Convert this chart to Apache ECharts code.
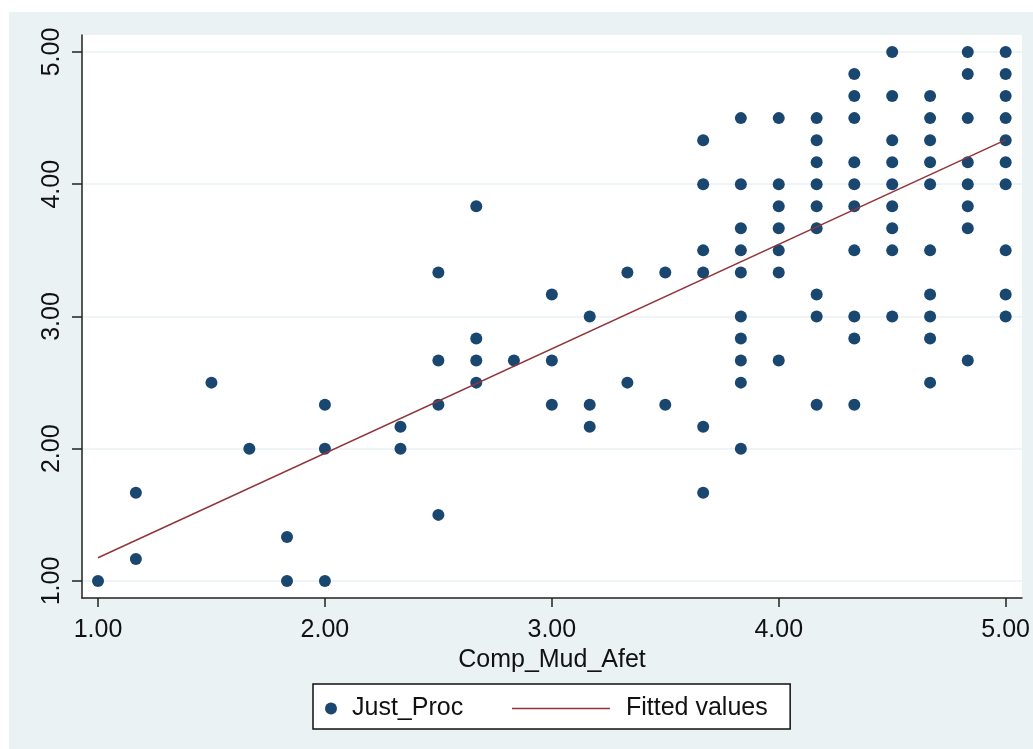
<!DOCTYPE html>
<html>
<head>
<meta charset="utf-8">
<script src="https://cdn.jsdelivr.net/npm/echarts@6/dist/echarts.min.js"></script>
<style>
  html, body { margin: 0; padding: 0; background: #ffffff; }
  #viz { position: absolute; left: 9px; top: 12px; width: 1024px; height: 737px; background: #eaf2f3; }
</style>
</head>
<body>
<div id="viz"></div>
<script>
// Comp_Mud_Afet values (x) and the Just_Proc values seen in each column
var colX = [1, 1.167, 1.5, 1.667, 1.833, 2, 2.333, 2.5, 2.667, 2.833, 3, 3.167, 3.333, 3.5,
            3.667, 3.833, 4, 4.167, 4.333, 4.5, 4.667, 4.833, 5];
var colY = [
    [1],
    [1.667, 1.167],
    [2.5],
    [2],
    [1.333, 1],
    [2.333, 2, 1],
    [2.167, 2],
    [3.333, 2.667, 2.333, 1.5],
    [3.833, 2.833, 2.667, 2.5],
    [2.667],
    [3.167, 2.667, 2.333],
    [3, 2.333, 2.167],
    [3.333, 2.5],
    [3.333, 2.333],
    [4.333, 4, 3.5, 3.333, 2.167, 1.667],
    [4.5, 4, 3.667, 3.5, 3.333, 3, 2.833, 2.667, 2.5, 2],
    [4.5, 4, 3.833, 3.667, 3.5, 3.333, 2.667],
    [4.5, 4.333, 4.167, 4, 3.833, 3.667, 3.167, 3, 2.333],
    [4.833, 4.667, 4.5, 4.167, 4, 3.833, 3.5, 3, 2.833, 2.333],
    [5, 4.667, 4.333, 4.167, 4, 3.833, 3.667, 3.5, 3],
    [4.667, 4.5, 4.333, 4.167, 4, 3.5, 3.167, 3, 2.833, 2.5],
    [5, 4.833, 4.5, 4.167, 4, 3.833, 3.667, 2.667],
    [5, 4.833, 4.667, 4.5, 4.333, 4.167, 4, 3.5, 3.167, 3]
];

// fitted line end points
var fitX = [1, 5];
var fitY = [1.176, 4.335];

var tickVals = [1, 2, 3, 4, 5];

var points = [];
colX.forEach(function (x, i) {
    colY[i].forEach(function (y) { points.push([x, y]); });
});
var fitted = fitX.map(function (x, i) { return [x, fitY[i]]; });

var myChart = echarts.init(document.getElementById("viz"));
var font = "Liberation Sans, Arial, sans-serif";

var option = {
    animation: false,
    backgroundColor: "transparent",
    textStyle: { fontFamily: font },
    grid: {
        left: 73, top: 23, right: 11, bottom: 151,
        show: true, backgroundColor: "#ffffff", borderWidth: 0
    },
    legend: [
        {
            data: [{ name: "Just_Proc", icon: "circle" }],
            left: 304, top: 672,
            orient: "horizontal",
            itemWidth: 12, itemHeight: 12,
            padding: [12, 327, 8, 12],
            backgroundColor: "#ffffff",
            borderColor: "#111111", borderWidth: 1.5, borderRadius: 0,
            textStyle: { fontSize: 25, color: "#111111", fontFamily: font, padding: [0, 0, 0, 10] }
        },
        {
            data: [{ name: "Fitted values", icon: "rect" }],
            left: 503, top: 672,
            itemWidth: 98, itemHeight: 1.5,
            symbolKeepAspect: false,
            padding: [12, 0, 8, 0],
            textStyle: { fontSize: 25, color: "#111111", fontFamily: font, padding: [0, 0, 0, 11] }
        }
    ],
    xAxis: {
        type: "value",
        min: 0.9295, max: 5.072,
        name: "Comp_Mud_Afet",
        nameLocation: "middle",
        nameGap: 43,
        nameTextStyle: { fontSize: 25, color: "#111111", fontFamily: font },
        axisLine: { show: true, lineStyle: { color: "#222222", width: 1.5 } },
        axisTick: { show: true, customValues: tickVals, length: 9, lineStyle: { color: "#222222", width: 1.5 } },
        axisLabel: {
            customValues: tickVals, margin: 20,
            fontSize: 25, color: "#111111", fontFamily: font,
            formatter: function (v) { return v.toFixed(2); }
        },
        splitLine: { show: false }
    },
    yAxis: {
        type: "value",
        min: 0.8715, max: 5.1285,
        axisLine: { show: true, lineStyle: { color: "#222222", width: 1.5 } },
        axisTick: { show: true, customValues: tickVals, length: 10, lineStyle: { color: "#222222", width: 1.5 } },
        axisLabel: {
            customValues: tickVals, margin: 17, rotate: 90,
            fontSize: 25, color: "#111111", fontFamily: font,
            formatter: function (v) { return v.toFixed(2); }
        },
        splitLine: { show: true, lineStyle: { color: "#eaf2f3", width: 1.5 } }
    },
    series: [
        {
            name: "Just_Proc",
            type: "scatter",
            data: points,
            symbol: "circle",
            symbolSize: 12,
            itemStyle: { color: "#1a476f", opacity: 1 },
            z: 3
        },
        {
            name: "Fitted values",
            type: "line",
            data: fitted,
            showSymbol: false,
            symbol: "none",
            lineStyle: { color: "#90353b", width: 1.5 },
            itemStyle: { color: "#90353b" },
            z: 4
        }
    ]
};

myChart.setOption(option);
</script>
</body>
</html>
